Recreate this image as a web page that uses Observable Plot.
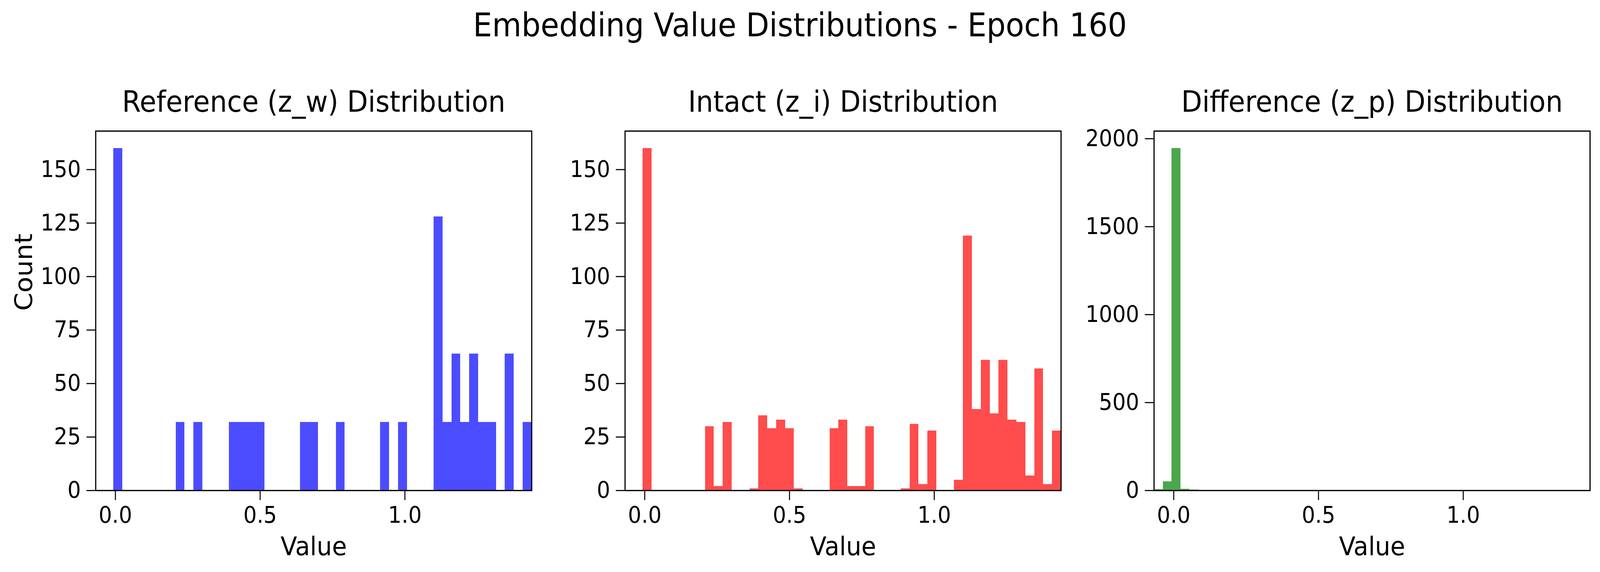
<!DOCTYPE html>
<html>
<head>
<meta charset="utf-8">
<script src="https://cdn.jsdelivr.net/npm/d3@7"></script>
<script src="https://cdn.jsdelivr.net/npm/@observablehq/plot@0.6"></script>
<style>
  html, body { margin: 0; padding: 0; background: #fff; overflow: hidden; }
  #fig { position: relative; width: 4422px; height: 1464px; overflow: hidden; font-family: "DejaVu Sans"; background: #fff; transform-origin: 0 0; }
  #suptitle { position: absolute; left: 0; top: 22.5px; width: 4422px; text-align: center; font-size: 83.3px; line-height: 1; color: #000; white-space: pre; }
  .panel { position: absolute; top: 0; }
</style>
</head>
<body>
<div id="fig">
  <div id="suptitle">Embedding Value Distributions - Epoch 160</div>
</div>
<script>
// ---- data ----
const binLo = -0.068;          // left edge of the shared histogram bins
const binHi = 1.438;           // right edge of the shared histogram bins
const binCount = 49;           // number of equal-width bins

const panelTitles = ["Reference (z_w) Distribution", "Intact (z_i) Distribution", "Difference (z_p) Distribution"];
const panelColors = ["blue", "red", "green"];
const xLabel = "Value";
const yLabel = "Count";

// counts per bin, bins 0..48
const refCounts = [
  0, 0, 160, 0, 0, 0, 0, 0, 0, 32,
  0, 32, 0, 0, 0, 32, 32, 32, 32, 0,
  0, 0, 0, 32, 32, 0, 0, 32, 0, 0,
  0, 0, 32, 0, 32, 0, 0, 0, 128, 32,
  64, 32, 64, 32, 32, 0, 64, 0, 32
];
const intCounts = [
  0, 0, 160, 0, 0, 0, 0, 0, 0, 30,
  2, 32, 0, 0, 1, 35, 29, 33, 29, 1,
  0, 0, 0, 29, 33, 2, 2, 30, 0, 0,
  0, 1, 31, 3, 28, 0, 0, 5, 119, 38,
  61, 36, 61, 33, 32, 7, 57, 3, 28
];
const diffCounts = [
  6, 52, 1946, 9, 5, 3, 0, 0, 0, 0,
  0, 0, 0, 0, 0, 0, 0, 0, 0, 0,
  0, 0, 0, 0, 0, 0, 0, 0, 0, 0,
  0, 0, 0, 0, 0, 0, 0, 0, 0, 0,
  0, 0, 0, 0, 0, 0, 0, 0, 0
];

const xTicks = [0, 0.5, 1.0];
const yTicksCount = [0, 25, 50, 75, 100, 125, 150];
const yTicksDiff = [0, 500, 1000, 1500, 2000];

// ---- layout ----
const figW = 4422, figH = 1464;
const axesLefts = [264, 1727, 3189];
const frameW = 1205;
const mLeft = 264, mRight = 20, mTop = 335, mBottom = 209;
const tickFont = 58.3, labelFont = 66.7, titleFont = 75;

const edges = d3.range(binCount + 1).map(i => binLo + i * (binHi - binLo) / binCount);

const panels = [
  {counts: refCounts, yTicks: yTicksCount, ylabel: yLabel},
  {counts: intCounts, yTicks: yTicksCount, ylabel: null},
  {counts: diffCounts, yTicks: yTicksDiff, ylabel: null}
];

const fig = document.getElementById("fig");

panels.forEach((p, i) => {
  const rows = p.counts.map((c, k) => ({x1: edges[k], x2: edges[k + 1], count: c})).filter(d => d.count > 0);
  const marks = [
    Plot.rect(rows, {x1: "x1", x2: "x2", y1: 0, y2: "count", fill: panelColors[i], fillOpacity: 0.7, shapeRendering: "crispEdges"}),
    Plot.frame({stroke: "black", strokeWidth: 3.2}),
    Plot.axisX({ticks: xTicks, tickFormat: d => d.toFixed(1), tickSize: 25, tickPadding: 16, fontSize: tickFont, label: null, strokeWidth: 2.8}),
    Plot.axisY({ticks: p.yTicks, tickFormat: d => String(d), tickSize: 25, tickPadding: 16, fontSize: tickFont, label: null, strokeWidth: 2.8}),
    Plot.text([panelTitles[i]], {text: d => d, frameAnchor: "top", dy: -50, lineAnchor: "bottom", fontSize: titleFont}),
    Plot.text([xLabel], {text: d => d, frameAnchor: "bottom", dy: 165, lineAnchor: "bottom", fontSize: labelFont})
  ];
  if (p.ylabel) {
    marks.push(Plot.text([p.ylabel], {text: d => d, frameAnchor: "left", dx: -176, rotate: -90, lineAnchor: "bottom", fontSize: labelFont}));
  }
  const chart = Plot.plot({
    width: mLeft + frameW + mRight,
    height: figH,
    marginLeft: mLeft, marginRight: mRight, marginTop: mTop, marginBottom: mBottom,
    style: "background: transparent; overflow: visible; font-family: 'DejaVu Sans'; color: black; max-width: none;",
    x: {domain: [binLo, binHi]},
    y: {domain: [0, d3.max(p.counts) * 1.05]},
    marks
  });
  const holder = document.createElement("div");
  holder.className = "panel";
  holder.style.left = (axesLefts[i] - mLeft) + "px";
  holder.appendChild(chart);
  fig.appendChild(holder);
});

// fit the 4422x1464 figure into the actual viewport
function fit() {
  const sx = Math.min(1, window.innerWidth / figW);
  const sy = Math.min(1, window.innerHeight / figH);
  fig.style.transform = (sx !== 1 || sy !== 1) ? `scale(${sx}, ${sy})` : "";
}
fit();
window.addEventListener("resize", fit);
</script>
</body>
</html>
